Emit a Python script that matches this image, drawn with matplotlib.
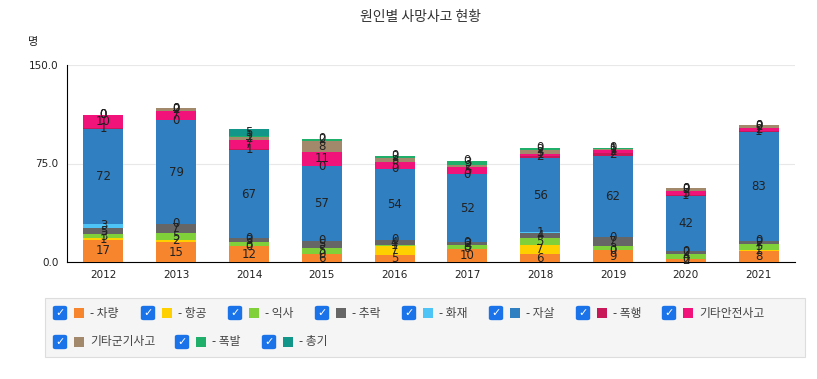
import matplotlib
matplotlib.use("Agg")
import matplotlib.pyplot as plt
from matplotlib.patches import FancyBboxPatch, Rectangle
import numpy as np

plt.rcParams['font.family'] = ['Noto Sans CJK KR', 'DejaVu Sans']

categories = ['2012', '2013', '2014', '2015', '2016', '2017', '2018', '2019', '2020', '2021']
series_names = ['- 차량', '- 항공', '- 익사', '- 추락', '- 화재', '- 자살', '- 폭행', '기타안전사고',
                '기타군기사고', '- 폭발', '- 총기']
차량 = [17, 15, 12, 6, 5, 10, 6, 9, 2, 8]
항공 = [1, 2, 0, 0, 7, 0, 7, 0, 0, 1]
익사 = [3, 5, 3, 5, 1, 3, 5, 3, 4, 5]
추락 = [5, 7, 3, 5, 4, 2, 4, 7, 2, 2]
화재 = [3, 0, 0, 0, 0, 0, 1, 0, 0, 0]
자살 = [72, 79, 67, 57, 54, 52, 56, 62, 42, 83]
폭행 = [1, 0, 1, 0, 0, 0, 2, 2, 1, 1]
기타안전사고 = [10, 7, 7, 11, 5, 5, 1, 2, 3, 2]
기타군기사고 = [0, 2, 2, 8, 3, 2, 3, 1, 2, 2]
폭발 = [0, 0, 1, 2, 2, 3, 2, 1, 0, 0]
총기 = [0, 0, 5, 0, 0, 0, 0, 0, 0, 0]
values = [차량, 항공, 익사, 추락, 화재, 자살, 폭행, 기타안전사고, 기타군기사고, 폭발, 총기]
colors = ['#F7852E', '#FFD000', '#80D03A', '#666666', '#4DC4F5', '#2F7FC1', '#C8185A',
          '#F2137A', '#A2896B', '#20AE6B', '#12968A']
yticks = [0, 75, 150]

W, H = 817, 379
fig = plt.figure(figsize=(W / 100, H / 100), dpi=100)
ax = fig.add_axes([67 / W, 1 - 262 / H, (795 - 67) / W, (262 - 65) / H])

x = np.arange(len(categories))
bottom = np.zeros(len(categories))
for name, vals, c in zip(series_names, values, colors):
    v = np.array(vals, dtype=float)
    ax.bar(x, v, 0.55, bottom=bottom, color=c, label=name, zorder=3)
    for xi, b, vi in zip(x, bottom, v):
        ax.text(xi, b + vi / 2, f"{int(vi)}", ha='center', va='center', fontsize=8.5,
                color='#222222', zorder=4, family='DejaVu Sans')
    bottom += v

ax.set_xlim(-0.5, len(categories) - 0.5)
ax.set_ylim(0, 150)
ax.set_yticks(yticks)
ax.set_yticklabels([f"{t:.1f}" for t in yticks], fontsize=7.5, color='#222222', family='DejaVu Sans')
ax.set_xticks(x)
ax.set_xticklabels(categories, fontsize=7.5, color='#222222', family='DejaVu Sans')
ax.tick_params(axis='both', length=0, pad=6)
ax.grid(axis='y', color='#e8e8e8', linewidth=0.8, zorder=0)
for s in ['top', 'right']:
    ax.spines[s].set_visible(False)
ax.spines['left'].set_color('#000000')
ax.spines['bottom'].set_color('#000000')
ax.spines['left'].set_linewidth(0.8)
ax.spines['bottom'].set_linewidth(0.8)

fig.text(420 / W, 1 - 17 / H, '원인별 사망사고 현황', ha='center', va='center', fontsize=10, color='#333333')
fig.text(33 / W, 1 - 42 / H, '명', ha='center', va='center', fontsize=8, color='#222222')

# legend box
def px(xp, yp):
    return xp / W, 1 - yp / H

lx, ly = px(45, 357)
box = Rectangle((lx, ly), (805 - 45) / W, (357 - 298) / H, transform=fig.transFigure,
                facecolor='#f5f5f5', edgecolor='#dddddd', linewidth=0.8)
fig.patches.append(box)

rows = [(313, [60, 148, 235, 322, 409, 496, 583, 669]), (342, [60, 182, 269])]
idx = 0
for yrow, xs in rows:
    for xc in xs:
        cb = 13
        bx, by = px(xc - cb / 2, yrow + cb / 2)
        fig.patches.append(FancyBboxPatch((bx, by), cb / W, cb / H, boxstyle='round,pad=0,rounding_size=0.003',
                                          transform=fig.transFigure, facecolor='#1a73e8', edgecolor='#1a73e8'))
        fig.text(*px(xc, yrow), '✓', ha='center', va='center', fontsize=8, color='white',
                 family='DejaVu Sans', fontweight='bold')
        sq = 10
        sx, sy = px(xc + 14, yrow + sq / 2)
        fig.patches.append(Rectangle((sx, sy), sq / W, sq / H, transform=fig.transFigure,
                                     facecolor=colors[idx], edgecolor='none'))
        fig.text(*px(xc + 30, yrow), series_names[idx], ha='left', va='center', fontsize=8.5,
                 color='#444444')
        idx += 1

fig.savefig('out.png', dpi=100)
